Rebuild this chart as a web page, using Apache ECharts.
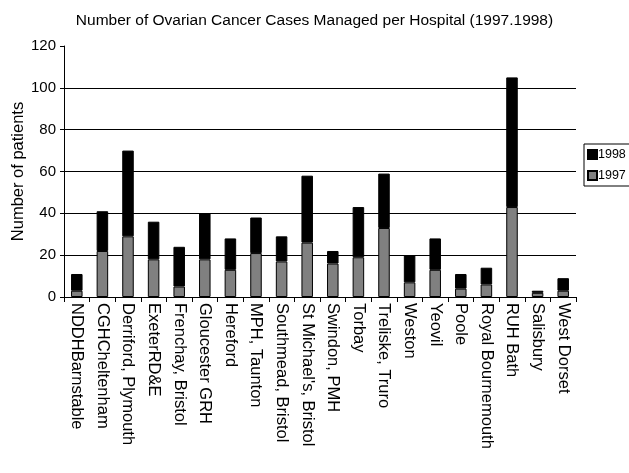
<!DOCTYPE html>
<html>
<head>
<meta charset="utf-8">
<script src="https://cdn.jsdelivr.net/npm/echarts@6/dist/echarts.min.js"></script>
<style>
html,body{margin:0;padding:0;background:#fff;}
#main{width:629px;height:473px;}
</style>
</head>
<body>
<div id="main"></div>
<script>
var hospitals = ['NDDHBarnstable','CGHCheltenham','Derriford, Plymouth','ExeterRD&E','Frenchay, Bristol',
    'Gloucester GRH','Hereford','MPH, Taunton','Southmead, Bristol',"St Michael's, Bristol",
    'Swindon, PMH','Torbay','Treliske, Truro','Weston','Yeovil','Poole','Royal Bournemouth',
    'RUH Bath','Salisbury','West Dorset'];
// 1997 cases (bottom of stack)
var cases1997 = [3, 22, 29, 18, 5, 18, 13, 21, 17, 26, 16, 19, 33, 7, 13, 4, 6, 43, 2, 3];
// 1998 cases (stacked on top)
var cases1998 = [8, 19, 41, 18, 19, 22, 15, 17, 12, 32, 6, 24, 26, 13, 15, 7, 8, 62, 1, 6];
var yTicks = [0, 20, 40, 60, 80, 100, 120];

var myChart = echarts.init(document.getElementById('main'));
var font = 'Liberation Sans, Arial, sans-serif';

var option = {
    animation: false,
    backgroundColor: '#fff',
    title: {
        text: 'Number of Ovarian Cancer Cases Managed per Hospital (1997.1998)',
        left: 'center',
        top: 8,
        textStyle: {fontFamily: font, fontSize: 15.5, fontWeight: 'normal', color: '#000'}
    },
    legend: {
        data: ['1998', '1997'],
        orient: 'vertical',
        left: 584,
        top: 144,
        borderColor: '#000',
        borderWidth: 1,
        padding: [4, 6, 4, 3],
        itemWidth: 9,
        itemHeight: 9,
        itemGap: 8,
        icon: 'rect',
        textStyle: {fontFamily: font, fontSize: 12.5, color: '#000', padding: [0, 0, 0, -4]}
    },
    grid: {left: 64, right: 53, top: 46, bottom: 176, outerBoundsMode: 'none', containLabel: false},
    xAxis: {
        type: 'category',
        data: hospitals,
        axisLine: {lineStyle: {color: '#000', width: 1}},
        axisTick: {show: true, alignWithLabel: false, length: 5, lineStyle: {color: '#000'}},
        axisLabel: {rotate: -90, interval: 0, margin: 6, fontFamily: font, fontSize: 16.5, color: '#000'}
    },
    yAxis: {
        type: 'value',
        min: yTicks[0],
        max: yTicks[yTicks.length - 1],
        interval: 20,
        name: 'Number of patients',
        nameLocation: 'middle',
        nameGap: 37,
        nameMoveOverlap: false,
        nameTextStyle: {fontFamily: font, fontSize: 16.5, color: '#000'},
        axisLine: {show: true, lineStyle: {color: '#000'}},
        axisTick: {show: true, length: 4, lineStyle: {color: '#000'}},
        axisLabel: {margin: 8, fontFamily: font, fontSize: 15, color: '#000'},
        splitLine: {show: true, lineStyle: {color: ['#000','#000','#000','#000','#000','#000','transparent'], width: 1}}
    },
    series: [
        {
            name: '1997',
            type: 'bar',
            stack: 'total',
            barWidth: '45%',
            data: cases1997,
            itemStyle: {color: '#808080', borderColor: '#000', borderWidth: 1}
        },
        {
            name: '1998',
            type: 'bar',
            stack: 'total',
            data: cases1998,
            itemStyle: {color: '#000', borderColor: '#000', borderWidth: 1}
        }
    ]
};

myChart.setOption(option);
</script>
</body>
</html>
